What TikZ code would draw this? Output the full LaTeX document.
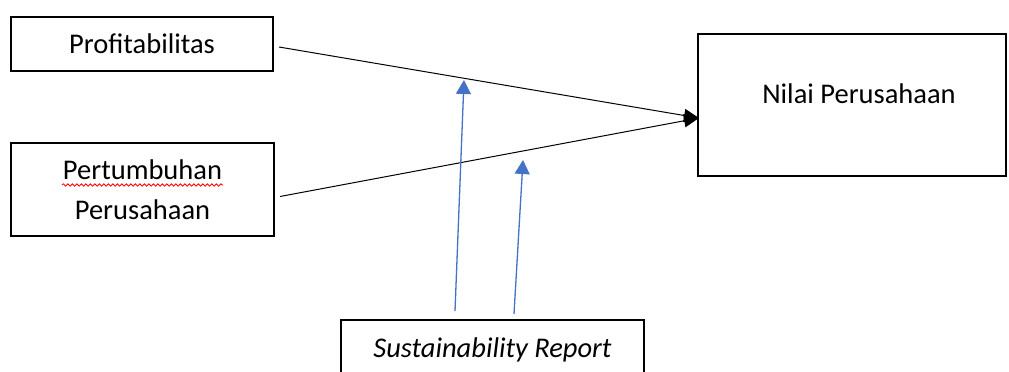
\documentclass[tikz,border=0pt]{standalone}
\usepackage{fontspec}
\setmainfont{Carlito}
\usetikzlibrary{arrows.meta,calc,decorations.pathmorphing}
\definecolor{accentblue}{RGB}{68,114,196}

\begin{document}
\begin{tikzpicture}[x=1pt, y=-1pt,
    box/.style={rectangle, draw, line width=2pt, inner sep=0pt, font=\fontsize{28.5}{40}\selectfont},
    link/.style={draw, line width=1pt, -{Triangle[length=15pt,width=13pt]}},
    moderator/.style={draw, accentblue, line width=1.3pt, -{Triangle[length=14pt,width=15pt]}}]
    \useasboundingbox (0,0) rectangle (1009,372);
    \clip (0,0) rectangle (1009,372);

    \node[box, minimum width=262pt, minimum height=54pt] (prof) at (142,44) {Profitabilitas};
    \node[box, minimum width=263pt, minimum height=93pt, align=center] (growth) at (142.5,189.5) {Pertumbuhan\\Perusahaan};
    \node[box, minimum width=308pt, minimum height=142pt, text depth=22pt] (nilai) at (852,105) {\hspace*{14pt}Nilai Perusahaan};
    \node[box, minimum width=303pt, minimum height=60pt] (report) at (492.5,350) {\itshape Sustainability Report};

    \draw[red, line width=0.8pt, decorate, decoration={snake, amplitude=1.2pt, segment length=4.5pt}] (62,185) -- (223,185);

    \coordinate (target) at ($(nilai.west)+(2,13)$);
    \coordinate (m1) at (464,80);
    \coordinate (m2) at (523,160);

    \draw[link] ($(prof.east)+(5,3)$) -- (target);
    \draw[link] ($(growth.east)+(5,7)$) -- (target);
    \draw[moderator] ($(report.north)+(-37.5,-8)$) -- (m1);
    \draw[moderator] ($(report.north)+(21.5,-5)$) -- (m2);
\end{tikzpicture}
\end{document}
